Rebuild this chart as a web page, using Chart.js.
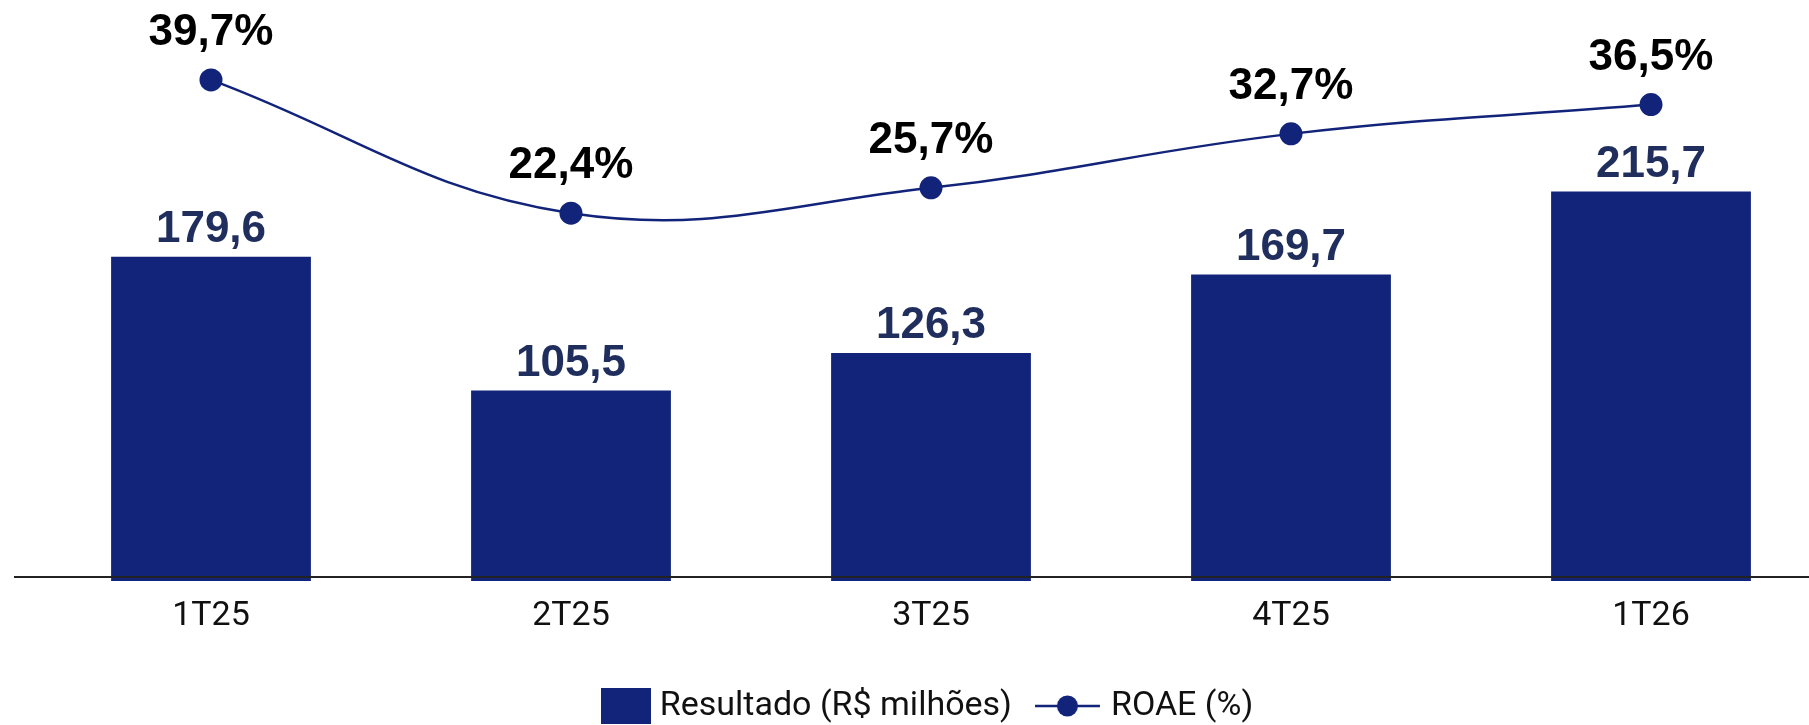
<!DOCTYPE html>
<html>
<head>
<meta charset="utf-8">
<script src="https://cdn.jsdelivr.net/npm/chart.js@4/dist/chart.umd.min.js"></script>
<style>
  html, body { margin: 0; padding: 0; background: #fff; overflow: hidden; }
  #wrap { position: absolute; left: 0; top: 0; width: 1861px; height: 725px; }
</style>
</head>
<body>
<div id="wrap"><canvas id="grafico"></canvas></div>
<script>
// trimestres
const trimestres = ['1T25', '2T25', '3T25', '4T25', '1T26'];
// resultado (R$ milhões)
const resultado = [179.6, 105.5, 126.3, 169.7, 215.7];
// ROAE (%)
const roae = [39.7, 22.4, 25.7, 32.7, 36.5];

const azul = '#12237a';
const fonte = 'Roboto, "Liberation Sans", Arial, sans-serif';
const fonteBold = '"Liberation Sans", Arial, sans-serif';

// numero com virgula
function fmt(v) {
    return v.toFixed(1).replace('.', ',');
}

// icones da legenda
function iconeBarra() {
    const c = document.createElement('canvas');
    c.width = 50; c.height = 36;
    const g = c.getContext('2d');
    g.fillStyle = azul;
    g.fillRect(0, 0, 50, 36);
    return c;
}
function iconeLinha() {
    // canvas mais largo para empurrar o icone para a esquerda
    const c = document.createElement('canvas');
    c.width = 84; c.height = 24;
    const g = c.getContext('2d');
    g.strokeStyle = azul;
    g.lineWidth = 2.5;
    g.beginPath(); g.moveTo(0, 12); g.lineTo(65, 12); g.stroke();
    g.fillStyle = azul;
    g.beginPath(); g.arc(32.5, 12, 10.5, 0, Math.PI * 2); g.fill();
    return c;
}

// rotulos em cima das barras e dos pontos
const rotulos = {
    id: 'rotulos',
    afterDatasetsDraw(chart) {
        const ctx = chart.ctx;
        ctx.save();
        ctx.textAlign = 'center';
        ctx.textBaseline = 'alphabetic';
        ctx.font = 'bold 44px ' + fonteBold;
        chart.getDatasetMeta(0).data.forEach((bar, i) => {
            ctx.fillStyle = '#1f2e5c';
            ctx.fillText(fmt(resultado[i]), bar.x, bar.y - 15);
        });
        chart.getDatasetMeta(1).data.forEach((pt, i) => {
            ctx.fillStyle = '#000';
            ctx.fillText(fmt(roae[i]) + '%', pt.x, pt.y - 35);
        });
        ctx.restore();
    }
};

// linha do eixo x (um pouco acima da base das barras)
const linhaEixo = {
    id: 'linhaEixo',
    afterDatasetsDraw(chart) {
        const ctx = chart.ctx;
        const y = Math.round(chart.scales.y.getPixelForValue(0)) - 4;
        ctx.save();
        ctx.strokeStyle = '#222';
        ctx.lineWidth = 2;
        ctx.beginPath();
        ctx.moveTo(14, y);
        ctx.lineTo(chart.width, y);
        ctx.stroke();
        ctx.restore();
    }
};

const grafico = new Chart(document.getElementById('grafico'), {
    type: 'bar',
    data: {
        labels: trimestres,
        datasets: [{
            type: 'bar',
            label: 'Resultado (R$ milhões)',
            data: resultado,
            backgroundColor: azul,
            categoryPercentage: 0.555,
            barPercentage: 1.0,
            yAxisID: 'y',
            order: 1
        }, {
            type: 'line',
            label: 'ROAE (%)',
            data: roae,
            borderColor: azul,
            backgroundColor: azul,
            borderWidth: 2.5,
            tension: 0.4,
            pointRadius: 11.5,
            pointHoverRadius: 11.5,
            pointBorderWidth: 0,
            pointBackgroundColor: azul,
            yAxisID: 'y1',
            order: 0
        }]
    },
    options: {
        responsive: true,
        maintainAspectRatio: false,
        animation: false,
        layout: { autoPadding: false, padding: { left: 31, right: 30, top: 0, bottom: 0 } },
        plugins: {
            tooltip: { enabled: false },
            legend: {
                position: 'bottom',
                maxHeight: 84,
                labels: {
                    usePointStyle: true,
                    pointStyleWidth: 34,
                    padding: 48,
                    color: '#111',
                    font: { family: fonte, size: 34 },
                    sort: (a, b) => a.datasetIndex - b.datasetIndex,
                    generateLabels(chart) {
                        const itens = Chart.defaults.plugins.legend.labels.generateLabels(chart);
                        itens.forEach(it => {
                            it.pointStyle = it.datasetIndex === 0 ? iconeBarra() : iconeLinha();
                        });
                        return itens;
                    }
                }
            }
        },
        scales: {
            x: {
                grid: { display: false, drawTicks: false },
                border: { display: false },
                ticks: { color: '#111', padding: 15, font: { family: fonte, size: 34 } },
                afterFit(scale) { scale.height = 60; }
            },
            y: { display: false, min: 0, max: 321.8 },
            y1: { display: false, min: -25.35, max: 50.08 }
        }
    },
    plugins: [linhaEixo, rotulos]
});
</script>
</body>
</html>
